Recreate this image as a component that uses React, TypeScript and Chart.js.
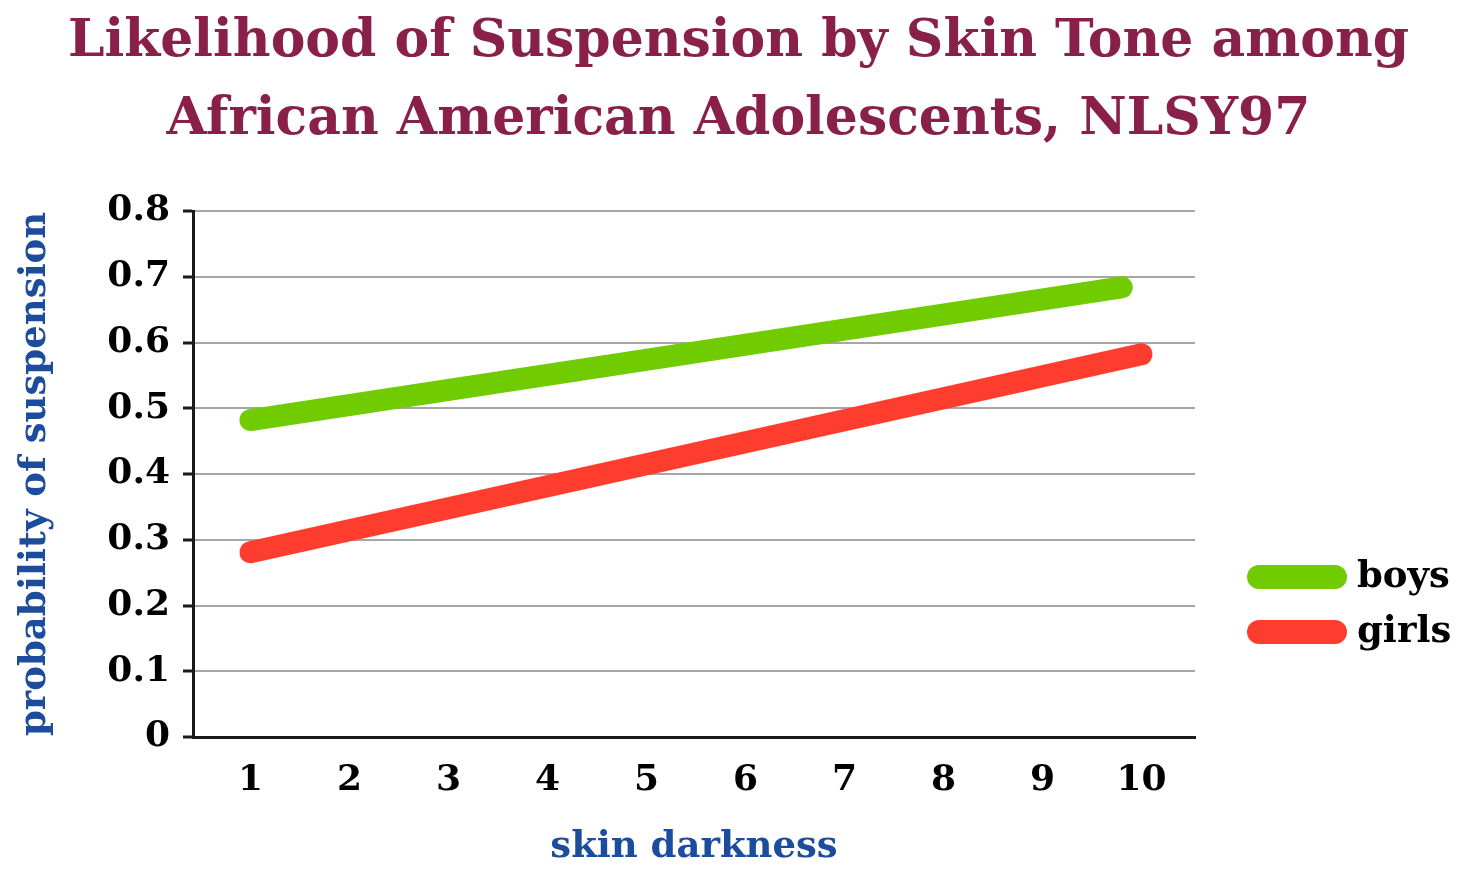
import React, { useEffect, useRef } from "react";
import { Chart, registerables } from "chart.js";

Chart.register(...registerables);

const titleLines = ["Likelihood of Suspension by Skin Tone among", "African American Adolescents, NLSY97"];
const skinDarknessTicks = [1, 2, 3, 4, 5, 6, 7, 8, 9, 10];
const boysX = [1, 9.8];
const boysY = [0.482, 0.684];
const girlsX = [1, 10];
const girlsY = [0.281, 0.582];
const seriesNames = ["boys", "girls"];
const seriesColors = ["#70CC00", "#FF3D2E"];
const yTicks = [0, 0.1, 0.2, 0.3, 0.4, 0.5, 0.6, 0.7, 0.8];

const FONT = "'DejaVu Serif', 'Liberation Serif', serif";

const legendPlugin = {
  id: "customLegend",
  afterDraw(chart: any) {
    const ctx = chart.ctx;
    const area = chart.chartArea;
    const x0 = area.right + 64;
    const x1 = area.right + 140;
    const ys = [577, 632];
    chart.data.datasets.forEach((ds: any, i: number) => {
      const y = ys[i];
      ctx.save();
      ctx.strokeStyle = ds.borderColor;
      ctx.lineWidth = 24;
      ctx.lineCap = "round";
      ctx.beginPath();
      ctx.moveTo(x0, y);
      ctx.lineTo(x1, y);
      ctx.stroke();
      ctx.fillStyle = "#000";
      ctx.font = `bold 37px ${FONT}`;
      ctx.textAlign = "left";
      ctx.textBaseline = "middle";
      ctx.fillText(ds.label, x1 + 22, y);
      ctx.restore();
    });
  },
};

export default function App() {
  const ref = useRef<HTMLCanvasElement>(null);
  useEffect(() => {
    document.body.style.margin = "0";
    const chart = new Chart(ref.current!, {
      type: "line",
      data: {
        datasets: [
          {
            label: seriesNames[0],
            data: boysX.map((x, i) => ({ x, y: boysY[i] })),
            borderColor: seriesColors[0],
            backgroundColor: seriesColors[0],
            borderWidth: 22,
            borderCapStyle: "round",
            pointRadius: 0,
          },
          {
            label: seriesNames[1],
            data: girlsX.map((x, i) => ({ x, y: girlsY[i] })),
            borderColor: seriesColors[1],
            backgroundColor: seriesColors[1],
            borderWidth: 22,
            borderCapStyle: "round",
            pointRadius: 0,
          },
        ],
      },
      options: {
        responsive: false,
        animation: false,
        layout: { padding: 0 },
        plugins: {
          legend: { display: false },
          tooltip: { enabled: false },
          title: {
            display: true,
            text: titleLines,
            color: "#88204A",
            font: { family: FONT, size: 52, weight: "bold", lineHeight: 1.5 },
            padding: { top: 3, bottom: 52 },
          },
        },
        scales: {
          x: {
            type: "linear",
            min: 0.42,
            max: 10.54,
            afterBuildTicks: (scale: any) => {
              scale.ticks = skinDarknessTicks.map((v) => ({ value: v }));
            },
            afterFit: (scale: any) => {
              scale.height = 145;
            },
            grid: { display: false },
            border: { display: true, color: "#1a1a1a", width: 3 },
            ticks: {
              color: "#000",
              font: { family: FONT, size: 36, weight: "bold" },
              padding: 14,
              maxRotation: 0,
              autoSkip: false,
            },
            title: {
              display: true,
              text: "skin darkness",
              color: "#1C4C9C",
              font: { family: FONT, size: 37, weight: "bold" },
              padding: { top: 0, bottom: 12 },
            },
          },
          y: {
            min: 0,
            max: 0.8,
            afterBuildTicks: (scale: any) => {
              scale.ticks = yTicks.map((v) => ({ value: v }));
            },
            afterFit: (scale: any) => {
              scale.width = 193;
            },
            grid: {
              color: "#a6a6a6",
              lineWidth: 2,
              tickLength: 10,
              tickColor: "#1a1a1a",
              tickWidth: 3,
            },
            border: { display: true, color: "#1a1a1a", width: 3 },
            ticks: {
              color: "#000",
              font: { family: FONT, size: 36, weight: "bold" },
              padding: 13,
              callback: (v: any) => String(Math.round(v * 10) / 10),
            },
            title: {
              display: true,
              text: "probability of suspension",
              color: "#1C4C9C",
              font: { family: FONT, size: 37, weight: "bold" },
              padding: { top: 13, bottom: 0 },
            },
          },
          legendSpace: {
            type: "linear",
            axis: "y",
            position: "right",
            min: 0,
            max: 1,
            afterFit: (scale: any) => {
              scale.width = 282;
            },
            grid: { display: false, drawOnChartArea: false },
            border: { display: false },
            ticks: { display: false },
          },
        },
      },
      plugins: [legendPlugin],
    });
    return () => chart.destroy();
  }, []);
  return <canvas ref={ref} width={1477} height={882} style={{ display: "block" }} />;
}
